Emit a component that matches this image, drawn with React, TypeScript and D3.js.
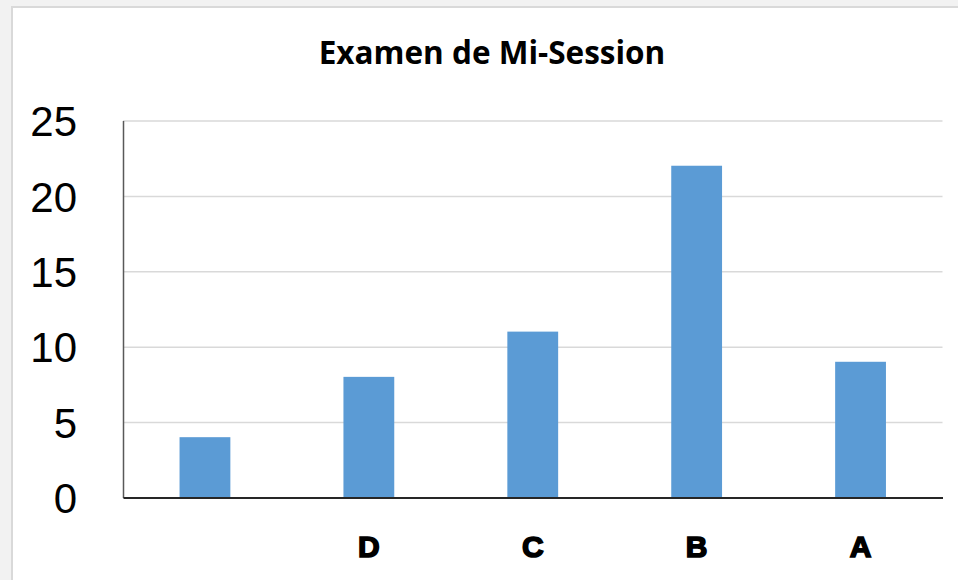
import { useEffect, useRef } from 'react';
import * as d3 from 'd3';

const categories = ['', 'D', 'C', 'B', 'A'];
const values = [4, 8, 11, 22, 9];
const yTicks = [0, 5, 10, 15, 20, 25];
const title = 'Examen de Mi-Session';

export default function App() {
  const svgRef = useRef<SVGSVGElement>(null);

  useEffect(() => {
    document.body.style.margin = '0';
    if (!svgRef.current) return;
    const svg = d3.select(svgRef.current);
    svg.selectAll('*').remove();

    const W = 958;
    const H = 580;
    const margin = { top: 120.5, right: 15.5, bottom: 82.5, left: 123 };
    const width = W - margin.left - margin.right;
    const height = H - margin.top - margin.bottom;

    // ── Background + frame ──────────────────────────────────
    svg.append('rect').attr('width', W).attr('height', H).attr('fill', '#f2f2f2');
    svg.append('rect')
      .attr('x', 12).attr('y', 7).attr('width', W).attr('height', H)
      .attr('fill', '#fff').attr('stroke', '#d9d9d9').attr('stroke-width', 2);

    // ── Title ──────────────────────────────────────────────
    svg.append('text')
      .attr('x', 492).attr('y', 64)
      .attr('text-anchor', 'middle')
      .attr('font-family', '"Open Sans", sans-serif')
      .attr('font-weight', 700)
      .attr('font-size', '31.5px')
      .attr('fill', '#000')
      .text(title);

    const g = svg.append('g').attr('transform', `translate(${margin.left},${margin.top})`);

    // ── Scales ──────────────────────────────────────────────
    const x = d3.scaleBand<number>()
      .domain(d3.range(categories.length))
      .range([0, width])
      .paddingInner(0.69)
      .paddingOuter(0.345);

    const y = d3.scaleLinear().domain([0, 25]).range([height, 0]);

    // ── Grid ────────────────────────────────────────────────
    g.append('g')
      .call(d3.axisLeft(y).tickValues(yTicks.slice(1)).tickSize(-width).tickFormat(() => ''))
      .call(g => g.select('.domain').remove())
      .call(g => g.selectAll('line').attr('stroke', '#d9d9d9').attr('stroke-width', 1.5));

    // ── Bars ────────────────────────────────────────────────
    g.selectAll('.bar')
      .data(values)
      .enter().append('rect')
      .attr('class', 'bar')
      .attr('x', (_, i) => x(i)!)
      .attr('y', d => y(d))
      .attr('width', x.bandwidth())
      .attr('height', d => height - y(d))
      .attr('fill', '#5b9bd5');

    // ── Axes ────────────────────────────────────────────────
    g.append('g')
      .call(d3.axisLeft(y).tickValues(yTicks).tickSize(0).tickPadding(46))
      .call(g => g.select('.domain').attr('stroke', '#595959').attr('stroke-width', 1.5))
      .call(g => g.selectAll('text')
        .attr('fill', '#000')
        .attr('font-family', '"Liberation Sans", Arial, sans-serif')
        .attr('font-size', '42px')
        .attr('dy', '0.36em'));

    g.append('g')
      .attr('transform', `translate(0,${height})`)
      .call(d3.axisBottom(x).tickSize(0).tickPadding(0).tickFormat(i => categories[i as number]))
      .call(g => g.select('.domain').attr('stroke', '#262626').attr('stroke-width', 1.8))
      .call(g => g.selectAll('text')
        .attr('fill', '#000')
        .attr('font-family', '"Liberation Sans", Arial, sans-serif')
        .attr('font-weight', 900)
        .attr('font-size', '30px')
        .attr('stroke', '#000')
        .attr('stroke-width', 1.6)
        .attr('dy', '0')
        .attr('y', 59));
  }, []);

  return (
    <svg
      ref={svgRef}
      width={958}
      height={580}
      style={{ display: 'block', position: 'absolute', left: 0, top: 0 }}
    />
  );
}
